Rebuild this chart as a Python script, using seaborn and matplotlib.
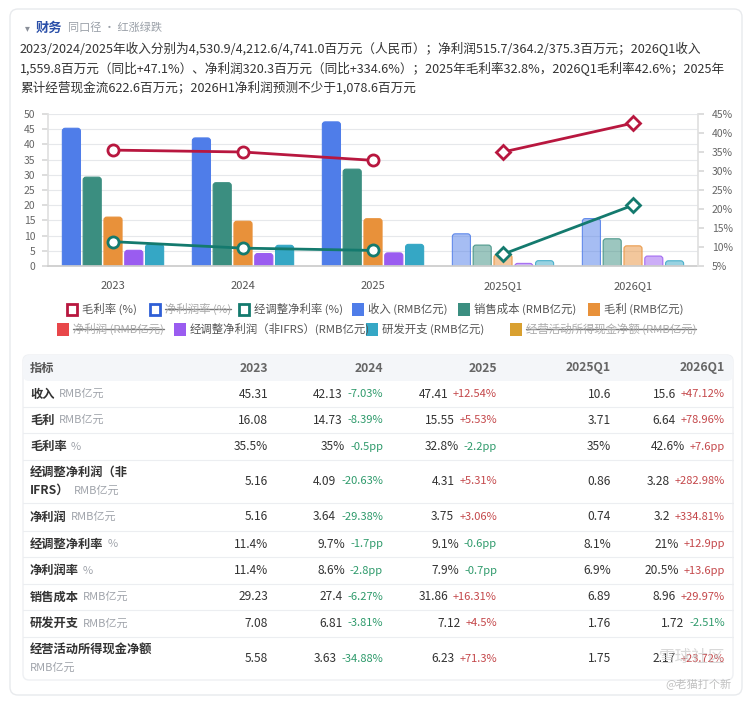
import numpy as np
import pandas as pd
import matplotlib
matplotlib.use("Agg")
import matplotlib.pyplot as plt
import seaborn as sns
from matplotlib.patches import Rectangle, FancyBboxPatch

# ---- data ----
periods = ['2023', '2024', '2025', '2025Q1', '2026Q1']
revenue = [45.31, 42.13, 47.41, 10.6, 15.6]
cost_of_sales = [29.23, 27.4, 31.86, 6.89, 8.96]
gross_profit = [16.08, 14.73, 15.55, 3.71, 6.64]
adj_net_profit = [5.16, 4.09, 4.31, 0.86, 3.28]
rnd_expense = [7.08, 6.81, 7.12, 1.76, 1.72]
net_profit = [5.16, 3.64, 3.75, 0.74, 3.2]
op_cash_flow = [5.58, 3.63, 6.23, 1.75, 2.17]
gross_margin = [35.5, 35, 32.8, 35, 42.6]
adj_net_margin = [11.4, 9.7, 9.1, 8.1, 21]
net_margin = [11.4, 8.6, 7.9, 6.9, 20.5]

chg_revenue = ['', '-7.03%', '+12.54%', '', '+47.12%']
chg_gross_profit = ['', '-8.39%', '+5.53%', '', '+78.96%']
chg_gross_margin = ['', '-0.5pp', '-2.2pp', '', '+7.6pp']
chg_adj_net_profit = ['', '-20.63%', '+5.31%', '', '+282.98%']
chg_net_profit = ['', '-29.38%', '+3.06%', '', '+334.81%']
chg_adj_net_margin = ['', '-1.7pp', '-0.6pp', '', '+12.9pp']
chg_net_margin = ['', '-2.8pp', '-0.7pp', '', '+13.6pp']
chg_cost = ['', '-6.27%', '+16.31%', '', '+29.97%']
chg_rnd = ['', '-3.81%', '+4.5%', '', '-2.51%']
chg_cash = ['', '-34.88%', '+71.3%', '', '+23.72%']

bar_series = ['收入', '销售成本', '毛利', '经调整净利润', '研发开支']
bar_colors = ['#4f7de9', '#3b8e80', '#e8913a', '#9a5cf0', '#35a7c5']
bar_values = [revenue, cost_of_sales, gross_profit, adj_net_profit, rnd_expense]

summary_lines = [
    '2023/2024/2025年收入分别为4,530.9/4,212.6/4,741.0百万元（人民币）；净利润515.7/364.2/375.3百万元；2026Q1收入',
    '1,559.8百万元（同比+47.1%）、净利润320.3百万元（同比+334.6%）；2025年毛利率32.8%，2026Q1毛利率42.6%；2025年',
    '累计经营现金流622.6百万元；2026H1净利润预测不少于1,078.6百万元',
]

sns.set_theme(style='white')
plt.rcParams['font.family'] = ['Noto Sans CJK SC', 'DejaVu Sans']

W, H = 748, 701
fig = plt.figure(figsize=(W / 100, H / 100), dpi=100)
fig.patch.set_facecolor('white')

# pixel canvas for card, texts and table
bg = fig.add_axes([0, 0, 1, 1], zorder=0)
bg.set_xlim(0, W)
bg.set_ylim(H, 0)
bg.axis('off')
renderer = fig.canvas.get_renderer()

bg.add_patch(FancyBboxPatch((10, 9), 732, 686, boxstyle='round,pad=0,rounding_size=8',
                            fc='white', ec='#e8eaed', lw=1))

bg.text(27, 28, '▾', fontsize=7, color='#8a8f99', ha='center', va='center')
bg.text(36, 28, '财务', fontsize=9.5, weight='bold', color='#2a4fa8', va='center')
bg.text(68, 28, '同口径 · 红涨绿跌', fontsize=8, color='#9aa0a8', va='center')
for i, line in enumerate(summary_lines):
    bg.text(20, 49 + i * 19.5, line, fontsize=9.1, color='#333333', va='center')

# ---- chart ----
ax = fig.add_axes([48 / W, 1 - 266 / H, 650 / W, 152 / H], zorder=1)
ax.patch.set_alpha(0)

bars_df = pd.DataFrame(
    [(p, name, v) for name, vals in zip(bar_series, bar_values) for p, v in zip(periods, vals)],
    columns=['period', 'series', 'value'])
sns.barplot(data=bars_df, x='period', y='value', hue='series', order=periods,
            hue_order=bar_series, palette=bar_colors, width=0.8, gap=0.13,
            saturation=1, errorbar=None, legend=False, ax=ax)

# rounded tops, quarterly bars lighter
for p in list(ax.patches):
    x, w, h = p.get_x(), p.get_width(), p.get_height()
    rgb = p.get_facecolor()[:3]
    quarter = x + w / 2 > 2.5
    fc = (*rgb, 0.5) if quarter else (*rgb, 1)
    ec = (*rgb, 0.85) if quarter else (*rgb, 1)
    p.set_visible(False)
    ax.add_patch(FancyBboxPatch((x, -1.5), w, h + 1.5,
                                boxstyle='round,pad=0,rounding_size=0.022',
                                mutation_aspect=43, fc=fc, ec=ec, lw=0.8, clip_on=True))

ax.set_xlim(-0.5, 4.5)
ax.set_ylim(0, 50)
ax.set_yticks(np.arange(0, 51, 5))
ax.set_xlabel('')
ax.set_ylabel('')
ax.grid(axis='y', color='#e6e8eb', lw=0.8)
ax.set_axisbelow(True)
ax.tick_params(axis='y', labelsize=7.5, labelcolor='#666666', length=4, color='#d8d8d8', pad=5, left=True)
ax.tick_params(axis='x', labelsize=8, labelcolor='#555555', length=0, pad=11)
for s in ['top', 'right']:
    ax.spines[s].set_visible(False)
ax.spines['left'].set_color('#e0e0e0')
ax.spines['bottom'].set_color('#cccccc')

ax2 = ax.twinx()
ax2.set_ylim(5, 45)
ax2.set_yticks(np.arange(5, 46, 5))
ax2.set_yticklabels([f'{t}%' for t in range(5, 46, 5)])
ax2.tick_params(axis='y', labelsize=7.5, labelcolor='#666666', length=4, color='#d8d8d8', pad=6, right=True)
for s in ['top', 'left', 'bottom']:
    ax2.spines[s].set_visible(False)
ax2.spines['right'].set_color('#e0e0e0')

line_specs = [(gross_margin, '#b8173f'), (adj_net_margin, '#147a6e')]
xs = np.arange(len(periods))
for vals, c in line_specs:
    sns.lineplot(x=xs[:3], y=vals[:3], ax=ax2, color=c, lw=2, marker='o', markersize=8,
                 markerfacecolor='white', markeredgecolor=c, markeredgewidth=2)
    sns.lineplot(x=xs[3:], y=vals[3:], ax=ax2, color=c, lw=2, marker='D', markersize=7,
                 markerfacecolor='white', markeredgecolor=c, markeredgewidth=2)
ax2.set_ylabel('')
ax2.set_xlim(-0.5, 4.5)

# ---- legend (custom, hidden series struck through) ----
legend_rows = [
    (309, [(72, '毛利率 (%)', '#b8173f', 'hollow', False),
           (155, '净利润率 (%)', '#2f5fd6', 'hollow', True),
           (244, '经调整净利率 (%)', '#147a6e', 'hollow', False),
           (358, '收入 (RMB亿元)', bar_colors[0], 'fill', False),
           (464, '销售成本 (RMB亿元)', bar_colors[1], 'fill', False),
           (594, '毛利 (RMB亿元)', bar_colors[2], 'fill', False)]),
    (329, [(63, '净利润 (RMB亿元)', '#e8474a', 'fill', True),
           (180, '经调整净利润（非IFRS）(RMB亿元)', bar_colors[3], 'fill', False),
           (372, '研发开支 (RMB亿元)', bar_colors[4], 'fill', False),
           (516, '经营活动所得现金净额 (RMB亿元)', '#d9a030', 'fill', True)]),
]
for y, items in legend_rows:
    for x, label, c, kind, hidden in items:
        if kind == 'hollow':
            bg.add_patch(Rectangle((x - 5, y - 5.5), 10, 11, fc='white', ec=c, lw=2))
        else:
            bg.add_patch(Rectangle((x - 6, y - 6.5), 12, 13, fc=c, ec=c, lw=0))
        t = bg.text(x + 10, y, label, fontsize=8.2, color='#aaaaaa' if hidden else '#555555', va='center')
        if hidden:
            e = t.get_window_extent(renderer)
            bg.plot([x + 10, x + 10 + e.width], [y, y], color='#777777', lw=1)

# ---- table ----
bg.add_patch(FancyBboxPatch((23, 355), 710, 325, boxstyle='round,pad=0,rounding_size=6',
                            fc='white', ec='#eef0f3', lw=1))
bg.add_patch(FancyBboxPatch((23, 355), 710, 26, boxstyle='round,pad=0,rounding_size=6',
                            fc='#f4f6f9', ec='none'))

col_right = [268, 383, 497, 611, 725]
red, green = '#c4474a', '#2e9a6b'

bg.text(30, 368, '指标', fontsize=8.8, weight='bold', color='#555555', va='center')
for xr, p in zip(col_right, periods):
    bg.text(xr, 368, p, fontsize=8.8, weight='bold', color='#666666', ha='right', va='center')

table_rows = [
    (['收入'], 'RMB亿元', revenue, chg_revenue, '', 26),
    (['毛利'], 'RMB亿元', gross_profit, chg_gross_profit, '', 26),
    (['毛利率'], '%', gross_margin, chg_gross_margin, '%', 27),
    (['经调整净利润（非', 'IFRS）'], 'RMB亿元', adj_net_profit, chg_adj_net_profit, '', 43),
    (['净利润'], 'RMB亿元', net_profit, chg_net_profit, '', 28),
    (['经调整净利率'], '%', adj_net_margin, chg_adj_net_margin, '%', 26),
    (['净利润率'], '%', net_margin, chg_net_margin, '%', 27),
    (['销售成本'], 'RMB亿元', cost_of_sales, chg_cost, '', 26),
    (['研发开支'], 'RMB亿元', rnd_expense, chg_rnd, '', 27),
    (['经营活动所得现金净额', ''], 'RMB亿元', op_cash_flow, chg_cash, '', 43),
]

top = 381
for lines, unit, vals, chgs, suffix, h in table_rows:
    yc = top + h / 2
    if len(lines) == 1:
        ys = [yc]
    else:
        ys = [yc - 9, yc + 9]
    for ln, yy in zip(lines, ys):
        ux = 30
        if ln:
            t = bg.text(30, yy, ln, fontsize=8.8, weight='bold', color='#333333', va='center')
            ux = 30 + t.get_window_extent(renderer).width + 4
    bg.text(ux, ys[-1], unit, fontsize=8, color='#a0a4ab', va='center')

    for xr, v, c in zip(col_right, vals, chgs):
        vx = xr
        if c:
            tc = bg.text(xr, yc, c, fontsize=8, color=red if c.startswith('+') else green,
                         ha='right', va='center')
            vx = xr - tc.get_window_extent(renderer).width - 5
        bg.text(vx, yc, f'{v:g}{suffix}', fontsize=8.6, color='#333333', ha='right', va='center')
    top += h
    if top < 679:
        bg.plot([23, 733], [top, top], color='#eceef1', lw=0.8)

# watermark
bg.text(692, 657, '雪球社区', fontsize=12, color='#c8c8c8', alpha=0.7, ha='center', va='center',
        style='italic')
bg.text(698, 685, '@老猫打个新', fontsize=8, color='#c0c0c0', ha='center', va='center')

fig.savefig('out.png', dpi=100)
